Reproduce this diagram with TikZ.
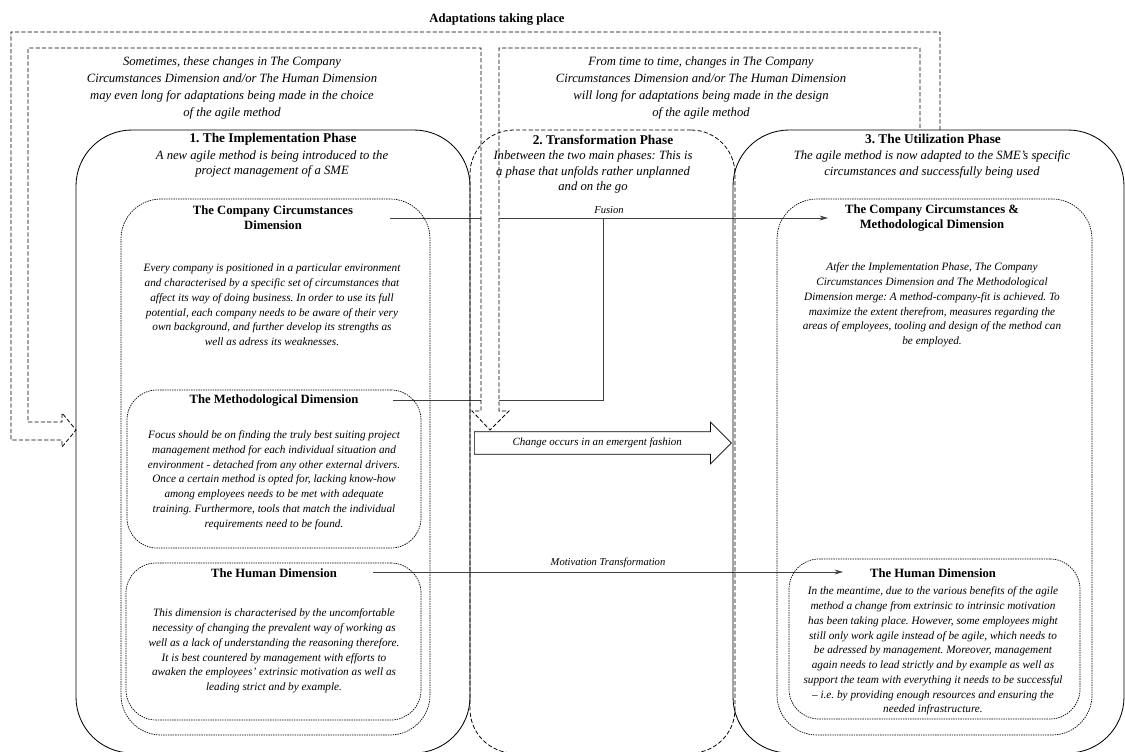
\documentclass[tikz,border=0pt]{standalone}
\usepackage{fontspec}
\setmainfont{Liberation Serif}
\usetikzlibrary{arrows.meta,fit,shapes.arrows}
\frenchspacing

\tikzset{
  phase/.style={draw, line width=0.6pt, rounded corners=1.4cm, inner sep=0pt},
  transphase/.style={draw, line width=0.55pt, dash pattern=on 3pt off 1.5pt, rounded corners=1.1cm, inner sep=0pt},
  dimbox/.style={draw, line width=0.5pt, dash pattern=on 1pt off 0.7pt, rounded corners=1cm, inner sep=0pt},
  phasetitle/.style={font=\fontsize{9.5}{11}\selectfont\bfseries, inner sep=0pt},
  phasetext/.style={font=\fontsize{9}{11.3}\selectfont\itshape, align=center, inner sep=0pt},
  dimtitle/.style={font=\fontsize{9}{10.7}\selectfont\bfseries, align=center, inner sep=0pt},
  dimtext/.style={font=\fontsize{8}{10.5}\selectfont\itshape, align=center, inner sep=0pt},
  note/.style={font=\fontsize{9}{12}\selectfont\itshape, align=center, inner sep=0pt},
  flowlabel/.style={font=\fontsize{7.5}{9}\selectfont\itshape, inner sep=0pt},
  flow/.style={draw=black!75, line width=0.6pt},
  adapt/.style={draw, line width=0.55pt, dash pattern=on 3pt off 1.5pt, fill=white},
}

\begin{document}
\begin{tikzpicture}[x=0.025cm, y=-0.025cm]
  \useasboundingbox (0,0) rectangle (1125,751);
  \clip (0,0) rectangle (1125,751);

  % ends of the connectors
  \coordinate (fusA) at (390,218);
  \coordinate (fusB) at (828,218);
  \coordinate (fusJ) at (603,218);
  \coordinate (mdA) at (393,400);
  \coordinate (motA) at (373,572);
  \coordinate (motB) at (843,572);

  \draw[flow, -{Stealth[length=6pt,width=3.5pt]}] (fusA) -- node[flowlabel, above=3pt] {Fusion} (fusB);
  \draw[flow] (mdA) -| (fusJ);
  \draw[flow, -{Stealth[length=6pt,width=3.5pt]}] (motA) -- node[flowlabel, above=3pt] {Motivation Transformation} (motB);

  % adaptations (hollow dashed arrow)
  \draw[adapt] (940,130) -- (940,32) -- (11,32) -- (11,440) -- (62,440) -- (62,447)
    -- (76,430) -- (62,413) -- (62,422) -- (28,422) -- (28,48) -- (481,48)
    -- (481,411) -- (472,411) -- (490,430) -- (509,411) -- (499,411)
    -- (499,48) -- (920,48) -- (920,130);
  \node (adapt) [font=\fontsize{9}{11}\selectfont\bfseries, inner sep=0pt] at (497,20) {Adaptations taking place};
  \node (adaptL) [note] at (232,88) {Sometimes, these changes in The Company\\
    Circumstances Dimension and/or The Human Dimension\\
    may even long for adaptations being made in the choice\\
    of the agile method};
  \node (adaptR) [note] at (701,88) {From time to time, changes in The Company\\
    Circumstances Dimension and/or The Human Dimension\\
    will long for adaptations being made in the design\\
    of the agile method};

  % phases
  \node (trans) [transphase, fit={(470,130) (735,753)}] {};
  \node (impl) [phase, fit={(76,130) (470,753)}] {};
  \node (util) [phase, fit={(733,130) (1124,753)}] {};

  \node (implh) [phasetitle] at (273,139) {1. The Implementation Phase};
  \node (implt) [phasetext] at (272,164) {A new agile method is being introduced to the\\
    project management of a SME};
  \node (transh) [phasetitle] at (603,140) {2. Transformation Phase};
  \node (transt) [phasetext] at (593,172) {Inbetween the two main phases: This is\\
    a phase that unfolds rather unplanned\\
    and on the go};
  \node (utilh) [phasetitle] at (933,139) {3. The Utilization Phase};
  \node (utilt) [phasetext] at (932,164) {The agile method is now adapted to the SME's specific\\
    circumstances and successfully being used};

  % dimensions, implementation phase
  \node (ccd) [dimbox, fit={(121,199) (430,735)}] {};
  \node (md) [dimbox, rounded corners=0.75cm, fit={(127,390) (421,548)}] {};
  \node (hd) [dimbox, rounded corners=0.75cm, fit={(126,563) (421,720)}] {};

  \node (ccdh) [dimtitle] at (273,218) {The Company Circumstances\\ Dimension};
  \node (ccdt) [dimtext] at (272,305) {Every company is positioned in a particular environment\\
    and characterised by a specific set of circumstances that\\
    affect its way of doing business. In order to use its full\\
    potential, each company needs to be aware of their very\\
    own background, and further develop its strengths as\\
    well as adress its weaknesses.};
  \node (mdh) [dimtitle] at (274,400) {The Methodological Dimension};
  \node (mdt) [dimtext] at (274,480) {Focus should be on finding the truly best suiting project\\
    management method for each individual situation and\\
    environment - detached from any other external drivers.\\
    Once a certain method is opted for, lacking know-how\\
    among employees needs to be met with adequate\\
    training. Furthermore, tools that match the individual\\
    requirements need to be found.};
  \node (hdh) [dimtitle] at (274,573) {The Human Dimension};
  \node (hdt) [dimtext] at (274,651) {This dimension is characterised by the uncomfortable\\
    necessity of changing the prevalent way of working as\\
    well as a lack of understanding the reasoning therefore.\\
    It is best countered by management with efforts to\\
    awaken the employees' extrinsic motivation as well as\\
    leading strict and by example.};

  % dimensions, utilization phase
  \node (cmd) [dimbox, fit={(777,199) (1092,735)}] {};
  \node (hdu) [dimbox, rounded corners=0.75cm, fit={(789,559) (1080,719)}] {};

  \node (cmdh) [dimtitle] at (932,218) {The Company Circumstances \&\\ Methodological Dimension};
  \node (cmdt) [dimtext] at (932,305) {Atfer the Implementation Phase, The Company\\
    Circumstances Dimension and The Methodological\\
    Dimension merge: A method-company-fit is achieved. To\\
    maximize the extent therefrom, measures regarding the\\
    areas of employees, tooling and design of the method can\\
    be employed.};
  \node (hduh) [dimtitle] at (933,573) {The Human Dimension};
  \node (hdut) [dimtext] at (933,651) {In the meantime, due to the various benefits of the agile\\
    method a change from extrinsic to intrinsic motivation\\
    has been taking place. However, some employees might\\
    still only work agile instead of be agile, which needs to\\
    be adressed by management. Moreover, management\\
    again needs to lead strictly and by example as well as\\
    support the team with everything it needs to be successful\\
    -- i.e. by providing enough resources and ensuring the\\
    needed infrastructure.};

  % emergent change
  \node (chg) [single arrow, draw, fill=white, line width=0.5pt, anchor=west,
    minimum height=6.425cm, single arrow head extend=0.24cm, inner xsep=2pt, inner ysep=4.2pt,
    font=\fontsize{7.8}{9}\selectfont\itshape] at (474,443) {Change occurs in an emergent fashion};
\end{tikzpicture}
\end{document}
